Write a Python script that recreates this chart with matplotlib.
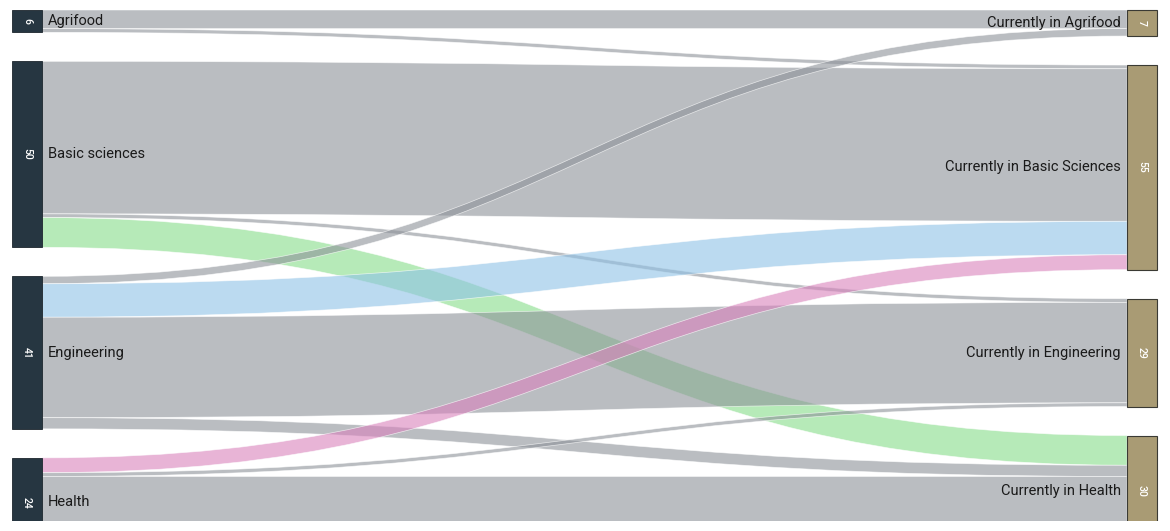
import matplotlib
matplotlib.use("Agg")
import matplotlib.pyplot as plt
from matplotlib.path import Path
from matplotlib.patches import PathPatch, Rectangle
from matplotlib.colors import to_rgba

# ---- data ----
sources = ["Agrifood", "Basic sciences", "Engineering", "Health"]
targets = ["Currently in Agrifood", "Currently in Basic Sciences",
           "Currently in Engineering", "Currently in Health"]
# flows[source][target]
flow_agrifood = [5, 1, 0, 0]
flow_basic = [0, 41, 1, 8]
flow_engineering = [2, 9, 27, 3]
flow_health = [0, 4, 1, 19]
flows = [flow_agrifood, flow_basic, flow_engineering, flow_health]

# link colour key: (source index, target index) -> colour; others grey
highlight = {(1, 3): "#86dc8a", (2, 1): "#8fc2e6", (3, 1): "#d982bc"}
grey_link = "#8d9299"

W, H = 1170, 531
fig = plt.figure(figsize=(W / 100, H / 100), dpi=100)
clip_bottom = 521
ax = fig.add_axes([0, (H - clip_bottom) / H, 1, clip_bottom / H])
ax.set_xlim(0, W)
ax.set_ylim(clip_bottom, 0)
ax.axis("off")

top = 10
gap = 29
scale = 3.72
xl0, xl1 = 12, 42
xr0, xr1 = 1127, 1157

src_tot = [sum(r) for r in flows]
tgt_tot = [sum(flows[s][t] for s in range(4)) for t in range(4)]

def positions(tots):
    ys = []
    y = top
    for v in tots:
        ys.append(y)
        y += v * scale + gap
    return ys

sy = positions(src_tot)
ty = positions(tgt_tot)

src_pos = {}
for s in range(4):
    y = sy[s]
    for t in range(4):
        v = flows[s][t]
        if v > 0:
            src_pos[(s, t)] = y
            y += v * scale
tgt_pos = {}
for t in range(4):
    y = ty[t]
    for s in range(4):
        v = flows[s][t]
        if v > 0:
            tgt_pos[(s, t)] = y
            y += v * scale

xm = (xl1 + xr0) / 2
for s in range(4):
    for t in range(4):
        v = flows[s][t]
        if v <= 0:
            continue
        h = v * scale
        y0 = src_pos[(s, t)]
        y1 = tgt_pos[(s, t)]
        verts = [(xl1, y0), (xm, y0), (xm, y1), (xr0, y1),
                 (xr0, y1 + h), (xm, y1 + h), (xm, y0 + h), (xl1, y0 + h), (xl1, y0)]
        codes = [Path.MOVETO, Path.CURVE4, Path.CURVE4, Path.CURVE4,
                 Path.LINETO, Path.CURVE4, Path.CURVE4, Path.CURVE4, Path.CLOSEPOLY]
        col = highlight.get((s, t), grey_link)
        ax.add_patch(PathPatch(Path(verts, codes), facecolor=to_rgba(col, 0.6),
                               edgecolor=(1, 1, 1, 0.7), lw=0.5, zorder=1))

font = ["Roboto", "DejaVu Sans"]
for i, name in enumerate(sources):
    h = src_tot[i] * scale
    ax.add_patch(Rectangle((xl0, sy[i]), xl1 - xl0, h, facecolor="#263641",
                           edgecolor="#1c262d", lw=0.6, zorder=3))
    cy = sy[i] + h / 2
    ax.text((xl0 + xl1) / 2, cy, str(src_tot[i]), rotation=-90, color="white",
            fontsize=7.5, ha="center", va="center", family=font, zorder=4,
            fontweight="medium")
    ax.text(xl1 + 6, cy, name, ha="left", va="center", fontsize=10.5,
            family=font, color="#1a1a1a", zorder=4)

for i, name in enumerate(targets):
    h = tgt_tot[i] * scale
    ax.add_patch(Rectangle((xr0, ty[i]), xr1 - xr0, h, facecolor="#a99b74",
                           edgecolor="#3a3a34", lw=0.8, zorder=3))
    cy = ty[i] + h / 2
    ax.text((xr0 + xr1) / 2, cy, str(tgt_tot[i]), rotation=-90, color="white",
            fontsize=7.5, ha="center", va="center", family=font, zorder=4,
            fontweight="medium")
    ax.text(xr0 - 6, cy, name, ha="right", va="center", fontsize=10.5,
            family=font, color="#1a1a1a", zorder=4)

fig.savefig("out.png", dpi=100, facecolor="white")
